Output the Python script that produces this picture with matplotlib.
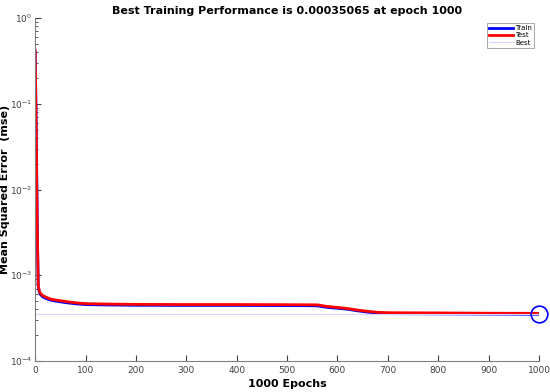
import numpy as np
import matplotlib
matplotlib.use("Agg")
import matplotlib.pyplot as plt

# data
epochs = [0, 2, 4, 6, 8, 10, 15, 20, 30, 40, 50, 60, 80, 100, 150, 200, 300, 400, 500,
          540, 560, 580, 600, 620, 640, 660, 680, 700, 800, 900, 1000]
train = [0.40, 0.05, 0.004, 0.00075, 0.00064, 0.00060, 0.00056, 0.00054, 0.000515, 0.000500,
         0.000490, 0.000480, 0.000465, 0.000455, 0.000450, 0.000447, 0.000445, 0.000445,
         0.000443, 0.000442, 0.000440, 0.000422, 0.000412, 0.000402, 0.000385, 0.000372,
         0.000362, 0.000357, 0.000355, 0.000353, 0.00035065]
test = [0.42, 0.05, 0.004, 0.00077, 0.00066, 0.00062, 0.00058, 0.00056, 0.000530, 0.000515,
        0.000505, 0.000495, 0.000478, 0.000467, 0.000461, 0.000458, 0.000456, 0.000456,
        0.000454, 0.000453, 0.000452, 0.000433, 0.000422, 0.000410, 0.000393, 0.000380,
        0.000370, 0.000366, 0.000364, 0.000361, 0.000360]
best_epoch = 1000
best_perf = 0.00035065

fig = plt.figure(figsize=(5.5, 3.92), dpi=100)
ax = fig.add_axes([0.064, 0.079, 0.916, 0.875])

ax.plot(epochs, train, color='blue', lw=2, label='Train')
ax.plot(epochs, test, color='red', lw=2, label='Test')
ax.axhline(best_perf, color='#d8d8ff', lw=0.8, label='Best')
ax.axvline(best_epoch, color='#d8d8ff', lw=0.8)
ax.plot([best_epoch], [best_perf], 'o', mfc='none', mec='blue', ms=12, mew=1.2, clip_on=False)

ax.set_yscale('log')
ax.set_xlim(0, 1000)
ax.set_ylim(1e-4, 1)
ax.set_xticks(range(0, 1001, 100))
ax.tick_params(which='both', direction='in', labelsize=6.5, colors='#404040')
ax.tick_params(axis='y', pad=2)
ax.tick_params(which='major', length=4)
ax.tick_params(which='minor', length=2)
for s in ['top', 'right']:
    ax.spines[s].set_visible(False)
for s in ['left', 'bottom']:
    ax.spines[s].set_color('#808080')

ax.set_title('Best Training Performance is 0.00035065 at epoch 1000', fontsize=8, fontweight='bold', pad=3)
ax.set_xlabel('1000 Epochs', fontsize=8, fontweight='bold', labelpad=3)
ax.set_ylabel('Mean Squared Error  (mse)', fontsize=8, fontweight='bold')
ax.yaxis.set_label_coords(-0.05, 0.5)

leg = ax.legend(loc='upper right', fontsize=5, frameon=True, fancybox=False,
                handlelength=3.5, borderaxespad=0.7, labelspacing=0.2,
                borderpad=0.3, handletextpad=0.3)
leg.get_frame().set_edgecolor('#808080')
leg.get_frame().set_linewidth(0.6)

fig.savefig('out.png', dpi=100)
